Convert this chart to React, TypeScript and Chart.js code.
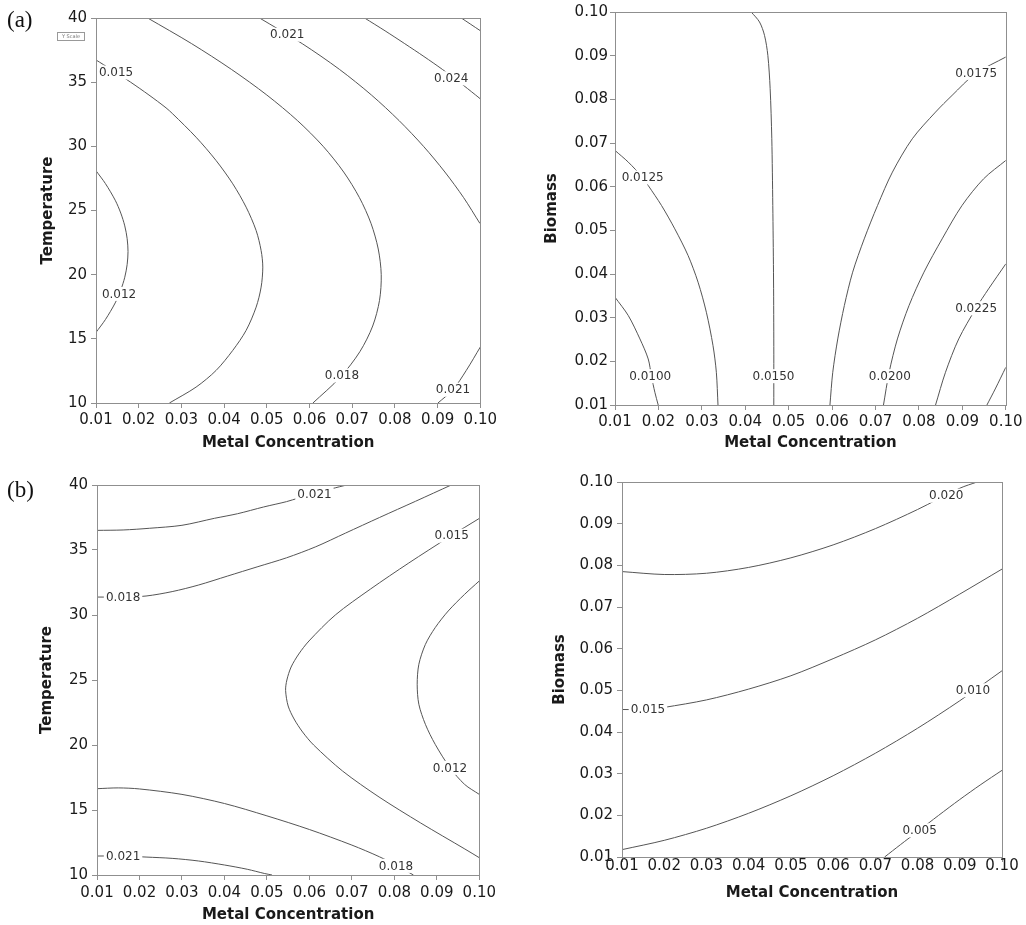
import React, { useEffect, useRef } from "react";
import { Chart, registerables } from "chart.js";

Chart.register(...registerables);

// ---------- tick values / labels ----------
const metalTicks = [0.01, 0.02, 0.03, 0.04, 0.05, 0.06, 0.07, 0.08, 0.09, 0.1];
const metalTickLabels = ["0.01", "0.02", "0.03", "0.04", "0.05", "0.06", "0.07", "0.08", "0.09", "0.10"];
const tempTicks = [10, 15, 20, 25, 30, 35, 40];
const tempTickLabels = ["10", "15", "20", "25", "30", "35", "40"];
const biomassTicks = [0.01, 0.02, 0.03, 0.04, 0.05, 0.06, 0.07, 0.08, 0.09, 0.1];
const biomassTickLabels = ["0.01", "0.02", "0.03", "0.04", "0.05", "0.06", "0.07", "0.08", "0.09", "0.10"];

// ---------- (a) Temperature vs Metal Concentration ----------
const aT012 = [[0.01, 28.1], [0.0122, 27.1], [0.0145, 25.8], [0.0158, 24.8], [0.01674, 23.8], [0.0173, 22.8], [0.0175, 21.8], [0.0173, 20.8], [0.01674, 19.8], [0.0158, 18.8], [0.0145, 17.8], [0.0122, 16.5], [0.01, 15.5]];
const aT015 = [[0.01, 36.73], [0.0135, 36], [0.0181, 35], [0.0224, 34], [0.0264, 33], [0.02797, 32.53], [0.03344, 30.71], [0.03813, 28.89], [0.04203, 27.08], [0.04516, 25.26], [0.0475, 23.44], [0.04867, 21.88], [0.04906, 20.59], [0.04867, 19.03], [0.0475, 17.47], [0.04516, 15.66], [0.04203, 14.1], [0.03813, 12.54], [0.03344, 11.24], [0.02719, 10]];
const aT018 = [[0.0221, 40], [0.0324, 38], [0.0417, 36], [0.05, 34], [0.0572, 32], [0.0632, 30], [0.068, 28], [0.0717, 26], [0.0744, 24], [0.0761, 22], [0.0768, 20], [0.0764, 18], [0.0748, 16], [0.0718, 14], [0.0672, 12], [0.0608, 10]];
const aT021top = [[0.0483, 40], [0.0583, 38], [0.067, 36], [0.0745, 34], [0.081, 32], [0.0867, 30], [0.0917, 28], [0.0961, 26], [0.0999, 24], [0.1, 23.97]];
const aT024 = [[0.0729, 40], [0.0777, 39], [0.0823, 38], [0.0868, 37], [0.0911, 36], [0.0951, 35], [0.0989, 34], [0.1, 33.7]];
const aT027 = [[0.09555, 40], [0.1, 39.01]];
const aT021bottom = [[0.09008, 10], [0.0936, 11.04], [0.09672, 12.54], [0.1, 14.36]];
const aTLabels = [
  { x: 0.0154, y: 18.5, text: "0.012" },
  { x: 0.0147, y: 35.75, text: "0.015" },
  { x: 0.0676, y: 12.15, text: "0.018" },
  { x: 0.0548, y: 38.7, text: "0.021" },
  { x: 0.0932, y: 35.3, text: "0.024" },
  { x: 0.0936, y: 11.04, text: "0.021" },
];

// ---------- (a) Biomass vs Metal Concentration ----------
const aB0100 = [[0.01, 0.03468], [0.01306, 0.03048], [0.01574, 0.02513], [0.01765, 0.02054], [0.0184, 0.01657], [0.01918, 0.01291], [0.01995, 0.01]];
const aB0125 = [[0.01, 0.06829], [0.01306, 0.06562], [0.01637, 0.0621], [0.01765, 0.06027], [0.02071, 0.05569], [0.02377, 0.05034], [0.02683, 0.04423], [0.02913, 0.03812], [0.03104, 0.03124], [0.03257, 0.0236], [0.03334, 0.01749], [0.03372, 0.01]];
const aB0150 = [[0.04137, 0.1], [0.04328, 0.09771], [0.04443, 0.09465], [0.0452, 0.09007], [0.04573, 0.08243], [0.04611, 0.07097], [0.04634, 0.05569], [0.0465, 0.04041], [0.04657, 0.02513], [0.04657, 0.01]];
const aB0175 = [[0.0595, 0.01], [0.06015, 0.01749], [0.0613, 0.02513], [0.06282, 0.03277], [0.06473, 0.04041], [0.0674, 0.04805], [0.07046, 0.05569], [0.07389, 0.06333], [0.07847, 0.07097], [0.08382, 0.07708], [0.08763, 0.0809], [0.09298, 0.08587], [0.1, 0.08969]];
const aB0200 = [[0.07183, 0.01], [0.07313, 0.01749], [0.07504, 0.02513], [0.07771, 0.03277], [0.08115, 0.04041], [0.08534, 0.04805], [0.08992, 0.05569], [0.09489, 0.0618], [0.1, 0.066]];
const aB0225 = [[0.08382, 0.01], [0.08611, 0.01749], [0.08916, 0.02513], [0.09313, 0.03216], [0.09603, 0.03659], [0.1, 0.04232]];
const aB0250 = [[0.09565, 0.01], [0.09756, 0.01367], [0.1, 0.01863]];
const aBLabels = [
  { x: 0.0181, y: 0.0166, text: "0.0100" },
  { x: 0.01637, y: 0.0621, text: "0.0125" },
  { x: 0.0465, y: 0.0166, text: "0.0150" },
  { x: 0.09317, y: 0.08605, text: "0.0175" },
  { x: 0.0733, y: 0.0166, text: "0.0200" },
  { x: 0.09317, y: 0.03216, text: "0.0225" },
];

// ---------- (b) Temperature vs Metal Concentration ----------
const bT021top = [[0.01, 36.51], [0.01615, 36.54], [0.02231, 36.67], [0.03, 36.9], [0.03769, 37.44], [0.04308, 37.79], [0.04923, 38.31], [0.05462, 38.72], [0.0575, 39.0], [0.0612, 39.27], [0.0654, 39.72], [0.0688, 40]];
const bT018top = [[0.01, 31.38], [0.01615, 31.38], [0.02154, 31.46], [0.02769, 31.8], [0.03385, 32.3], [0.04077, 33.0], [0.04769, 33.7], [0.05462, 34.4], [0.0615, 35.25], [0.0685, 36.3], [0.0765, 37.5], [0.085, 38.75], [0.0934, 40]];
const bT015 = [[0.1, 37.43], [0.0929, 36], [0.0834, 34], [0.0744, 32], [0.0661, 30], [0.0599, 28], [0.0575, 27], [0.0557, 26], [0.0547, 25], [0.0544, 24.2], [0.055, 23], [0.0564, 22], [0.0584, 21], [0.061, 20], [0.0678, 18], [0.0764, 16], [0.0862, 14], [0.0966, 12], [0.1, 11.33]];
const bT012 = [[0.1, 32.62], [0.09654, 31.59], [0.09269, 30.31], [0.08962, 29.03], [0.08731, 27.74], [0.08577, 26.21], [0.08538, 24.67], [0.08577, 23.13], [0.08731, 21.59], [0.08962, 20.05], [0.09308, 18.26], [0.09654, 16.97], [0.1, 16.2]];
const bT018bottom = [[0.01, 16.64], [0.015, 16.7], [0.02, 16.62], [0.03, 16.2], [0.04, 15.5], [0.05, 14.55], [0.06, 13.5], [0.07, 12.3], [0.0765, 11.4], [0.0804, 10.75], [0.0845, 10]];
const bT021bottom = [[0.01, 11.46], [0.01615, 11.46], [0.02154, 11.38], [0.02769, 11.28], [0.03385, 11.08], [0.04, 10.77], [0.04538, 10.44], [0.04938, 10.12], [0.0512, 10]];
const bTLabels = [
  { x: 0.0612, y: 39.27, text: "0.021" },
  { x: 0.01615, y: 31.38, text: "0.018" },
  { x: 0.0935, y: 36.1, text: "0.015" },
  { x: 0.0931, y: 18.24, text: "0.012" },
  { x: 0.0804, y: 10.7, text: "0.018" },
  { x: 0.01615, y: 11.46, text: "0.021" },
];

// ---------- (b) Biomass vs Metal Concentration ----------
const bB020 = [[0.01, 0.0785], [0.02, 0.0778], [0.03, 0.0781], [0.04, 0.0795], [0.05, 0.0818], [0.06, 0.0849], [0.07, 0.0888], [0.08, 0.0934], [0.09, 0.0985], [0.0941, 0.1]];
const bB015 = [[0.01, 0.0454], [0.0162, 0.0454], [0.02, 0.0459], [0.03, 0.0477], [0.04, 0.0503], [0.05, 0.0535], [0.06, 0.0576], [0.07, 0.0621], [0.08, 0.0673], [0.09, 0.0731], [0.1, 0.0791]];
const bB010 = [[0.01, 0.01177], [0.02, 0.014], [0.03, 0.0169], [0.04, 0.0205], [0.05, 0.0247], [0.06, 0.0295], [0.07, 0.0349], [0.08, 0.0409], [0.09, 0.0475], [0.1, 0.0547]];
const bB005 = [[0.0722, 0.01], [0.076, 0.013], [0.08, 0.0161], [0.085, 0.02], [0.09, 0.0238], [0.095, 0.0274], [0.1, 0.0308]];
const bBLabels = [
  { x: 0.0868, y: 0.0967, text: "0.020" },
  { x: 0.01616, y: 0.0454, text: "0.015" },
  { x: 0.0931, y: 0.05, text: "0.010" },
  { x: 0.0805, y: 0.0164, text: "0.005" },
];

// ---------- styling ----------
const LINE = "#555";
const AXIS = "#8f8f8f";
const TEXT = "#1a1a1a";
const FONT = "DejaVu Sans";

type Pt = number[];
type Lbl = { x: number; y: number; text: string };
type PanelCfg = {
  left: number; top: number; width: number; height: number;
  yWidth: number; xHeight: number; padTop: number; padRight: number;
  yTitle: string; yTitlePad: number; xTitlePad: number; xTickPad: number; yTickPad: number;
  yMin: number; yMax: number; yTicks: number[]; yTickLabels: string[];
  lines: Pt[][]; labels: Lbl[];
};

const panels: PanelCfg[] = [
  {
    left: 0, top: 0, width: 500, height: 460,
    yWidth: 96, xHeight: 57, padTop: 18, padRight: 19,
    yTitle: "Temperature", yTitlePad: 38.7, xTitlePad: 8.3, xTickPad: 3, yTickPad: 4,
    yMin: 10, yMax: 40, yTicks: tempTicks, yTickLabels: tempTickLabels,
    lines: [aT012, aT015, aT018, aT021top, aT024, aT027, aT021bottom], labels: aTLabels,
  },
  {
    left: 500, top: 0, width: 526, height: 460,
    yWidth: 115, xHeight: 55, padTop: 12, padRight: 20,
    yTitle: "Biomass", yTitlePad: 42.7, xTitlePad: 7.7, xTickPad: 3.5, yTickPad: 2,
    yMin: 0.01, yMax: 0.1, yTicks: biomassTicks, yTickLabels: biomassTickLabels,
    lines: [aB0100, aB0125, aB0150, aB0175, aB0200, aB0225, aB0250], labels: aBLabels,
  },
  {
    left: 0, top: 460, width: 500, height: 465,
    yWidth: 97, xHeight: 50, padTop: 25, padRight: 13,
    yTitle: "Temperature", yTitlePad: 37.7, xTitlePad: 1, xTickPad: 4, yTickPad: 4,
    yMin: 10, yMax: 40, yTicks: tempTicks, yTickLabels: tempTickLabels,
    lines: [bT021top, bT018top, bT015, bT012, bT018bottom, bT021bottom], labels: bTLabels,
  },
  {
    left: 500, top: 460, width: 526, height: 465,
    yWidth: 122, xHeight: 68, padTop: 22, padRight: 24,
    yTitle: "Biomass", yTitlePad: 51, xTitlePad: 22.7, xTickPad: -5, yTickPad: 4,
    yMin: 0.01, yMax: 0.1, yTicks: biomassTicks, yTickLabels: biomassTickLabels,
    lines: [bB020, bB015, bB010, bB005], labels: bBLabels,
  },
];

function ContourPanel({ cfg }: { cfg: PanelCfg }) {
  const ref = useRef<HTMLCanvasElement>(null);
  useEffect(() => {
    const labelPlugin = {
      id: "contourLabels",
      afterDatasetsDraw(chart: any) {
        const { ctx, scales } = chart;
        ctx.save();
        ctx.font = `12px "${FONT}"`;
        ctx.textAlign = "center";
        ctx.textBaseline = "middle";
        for (const it of cfg.labels) {
          const px = scales.x.getPixelForValue(it.x);
          const py = scales.y.getPixelForValue(it.y);
          const w = ctx.measureText(it.text).width;
          ctx.fillStyle = "#fff";
          ctx.fillRect(px - w / 2 - 2, py - 7, w + 4, 14);
          ctx.fillStyle = "#333";
          ctx.fillText(it.text, px, py + 0.5);
        }
        ctx.restore();
      },
    };
    const framePlugin = {
      id: "frame",
      afterDraw(chart: any) {
        const { ctx, chartArea: a } = chart;
        ctx.save();
        ctx.strokeStyle = AXIS;
        ctx.lineWidth = 1;
        ctx.strokeRect(Math.round(a.left) + 0.5, Math.round(a.top) + 0.5, Math.round(a.right - a.left), Math.round(a.bottom - a.top));
        ctx.restore();
      },
    };
    const tickFont = { family: FONT, size: 15 };
    const titleFont = { family: FONT, size: 15, weight: "bold" as const };
    const chart = new Chart(ref.current!, {
      type: "scatter",
      data: {
        datasets: cfg.lines.map((pts) => ({
          data: pts.map(([x, y]) => ({ x, y })),
          showLine: true,
          borderColor: LINE,
          borderWidth: 1,
          pointRadius: 0,
          pointHoverRadius: 0,
          tension: 0.3,
          fill: false,
        })),
      },
      options: {
        responsive: false,
        animation: false,
        devicePixelRatio: 1,
        events: [],
        layout: { padding: { top: cfg.padTop, right: cfg.padRight, left: 0, bottom: 0 } },
        plugins: { legend: { display: false }, tooltip: { enabled: false } },
        scales: {
          x: {
            type: "linear",
            min: 0.01,
            max: 0.1,
            afterBuildTicks: (s: any) => { s.ticks = metalTicks.map((v) => ({ value: v })); },
            afterFit: (s: any) => { s.height = cfg.xHeight; },
            ticks: {
              callback: (_v: any, i: number) => metalTickLabels[i],
              autoSkip: false,
              maxRotation: 0,
              minRotation: 0,
              padding: cfg.xTickPad,
              font: tickFont,
              color: TEXT,
            },
            grid: { drawOnChartArea: false, drawTicks: true, tickLength: 5, color: AXIS, tickColor: AXIS },
            border: { display: false },
            title: { display: true, text: "Metal Concentration", font: titleFont, color: TEXT, padding: { top: 0, bottom: cfg.xTitlePad } },
          },
          y: {
            type: "linear",
            min: cfg.yMin,
            max: cfg.yMax,
            afterBuildTicks: (s: any) => { s.ticks = cfg.yTicks.map((v) => ({ value: v })); },
            afterFit: (s: any) => { s.width = cfg.yWidth; },
            ticks: {
              callback: (_v: any, i: number) => cfg.yTickLabels[i],
              autoSkip: false,
              padding: cfg.yTickPad,
              font: tickFont,
              color: TEXT,
            },
            grid: { drawOnChartArea: false, drawTicks: true, tickLength: 5, color: AXIS, tickColor: AXIS },
            border: { display: false },
            title: { display: true, text: cfg.yTitle, font: titleFont, color: TEXT, padding: { top: cfg.yTitlePad, bottom: 0 } },
          },
        },
      } as any,
      plugins: [labelPlugin, framePlugin],
    });
    return () => chart.destroy();
  }, [cfg]);
  return (
    <canvas
      ref={ref}
      width={cfg.width}
      height={cfg.height}
      style={{ position: "absolute", left: cfg.left, top: cfg.top, width: cfg.width, height: cfg.height }}
    />
  );
}

export default function App() {
  return (
    <div style={{ position: "absolute", left: 0, top: 0, width: 1026, height: 925, background: "#fff", overflow: "hidden" }}>
      {panels.map((p, i) => (
        <ContourPanel key={i} cfg={p} />
      ))}
      <div style={{ position: "absolute", left: 7, top: 8, fontFamily: "Liberation Serif", fontSize: 23, lineHeight: 1, color: "#111" }}>(a)</div>
      <div style={{ position: "absolute", left: 7, top: 478, fontFamily: "Liberation Serif", fontSize: 23, lineHeight: 1, color: "#111" }}>(b)</div>
      <div
        style={{
          position: "absolute", left: 57, top: 32, width: 26, height: 7,
          border: "1px solid #999", fontFamily: FONT, fontSize: 5, lineHeight: "7px",
          color: "#777", textAlign: "center", overflow: "hidden", whiteSpace: "nowrap",
        }}
      >
        Y Scale
      </div>
    </div>
  );
}
